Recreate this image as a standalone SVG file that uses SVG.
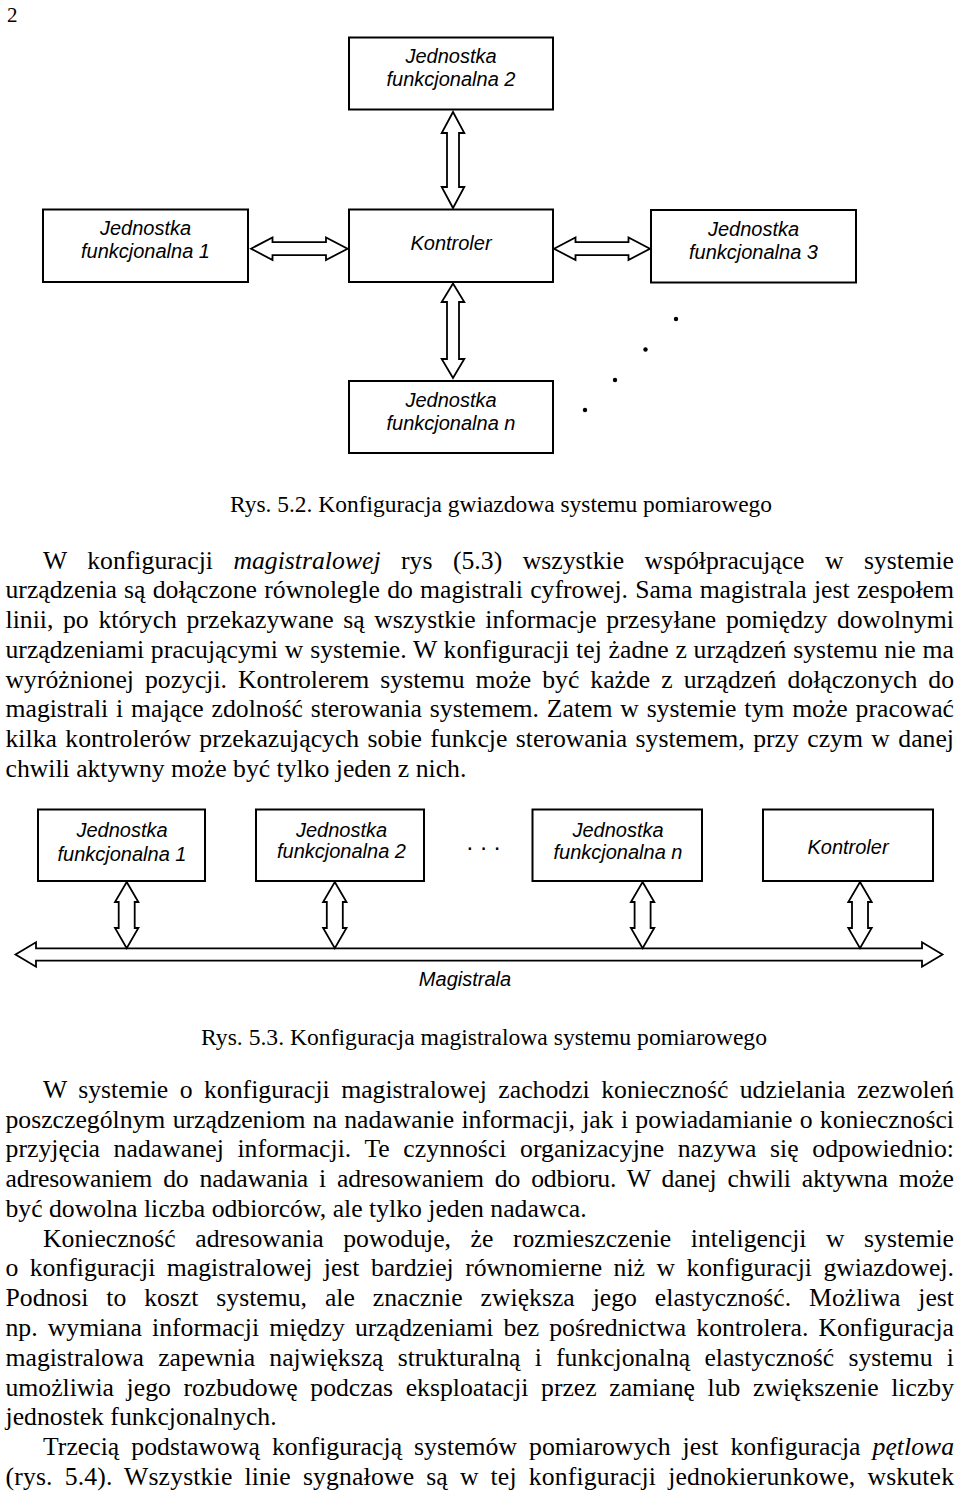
<svg xmlns="http://www.w3.org/2000/svg" width="960" height="1494" viewBox="0 0 960 1494">
<style>
.box{fill:#fff;stroke:#000;stroke-width:2}
.arr{fill:#fff;stroke:#000;stroke-width:1.8;stroke-linejoin:miter}
.lbl{font-family:"Liberation Sans",Arial,sans-serif;font-style:italic;font-size:20px;text-anchor:middle;fill:#000}
.body{font-family:"Liberation Serif","Times New Roman",serif;font-size:25.7px;fill:#000}
.cap{font-family:"Liberation Serif","Times New Roman",serif;font-size:23.4px;fill:#000}
.it{font-style:italic}
.dot{fill:#000}
</style>
<rect width="960" height="1494" fill="#fff"/>
<text x="7" y="22" style="font-family:'Liberation Serif',serif;font-size:21px">2</text>

<!-- Star configuration -->
<g id="star-connectors">
<path class="arr" d="M453,112 L464.3,133 L459,133 L459,187 L464.3,187 L453,208 L441.7,187 L447,187 L447,133 L441.7,133 Z"/>
<path class="arr" d="M453,283.5 L464.3,302 L459,302 L459,359 L464.3,359 L453,378 L441.7,359 L447,359 L447,302 L441.7,302 Z"/>
<path class="arr" d="M251,248.7 L272.5,237.4 L272.5,242.2 L326,242.2 L326,237.4 L347.6,248.7 L326,260 L326,255.2 L272.5,255.2 L272.5,260 Z"/>
<path class="arr" d="M554,248.7 L575.5,237.4 L575.5,242.2 L628.5,242.2 L628.5,237.4 L650,248.7 L628.5,260 L628.5,255.2 L575.5,255.2 L575.5,260 Z"/>
</g>
<g id="star-jf2">
<rect class="box" x="349" y="37.5" width="204" height="72"/>
<text class="lbl" x="451" y="63">Jednostka</text>
<text class="lbl" x="451" y="86">funkcjonalna 2</text>
</g>
<g id="star-kontroler">
<rect class="box" x="349" y="209.5" width="204" height="72.5"/>
<text class="lbl" x="451" y="250">Kontroler</text>
</g>
<g id="star-jf1">
<rect class="box" x="43" y="209.5" width="205" height="72.5"/>
<text class="lbl" x="145.5" y="235">Jednostka</text>
<text class="lbl" x="145.5" y="258">funkcjonalna 1</text>
</g>
<g id="star-jf3">
<rect class="box" x="651" y="210" width="205" height="72.5"/>
<text class="lbl" x="753.5" y="236">Jednostka</text>
<text class="lbl" x="753.5" y="259">funkcjonalna 3</text>
</g>
<g id="star-jfn">
<rect class="box" x="349" y="381" width="204" height="72"/>
<text class="lbl" x="451" y="407">Jednostka</text>
<text class="lbl" x="451" y="430">funkcjonalna n</text>
</g>
<g id="star-dots">
<circle class="dot" cx="676" cy="319" r="2.2"/>
<circle class="dot" cx="645.5" cy="349.5" r="2.2"/>
<circle class="dot" cx="615" cy="380" r="2.2"/>
<circle class="dot" cx="585" cy="410" r="2.2"/>
</g>

<text class="cap" x="230" y="512" textLength="542" lengthAdjust="spacingAndGlyphs">Rys. 5.2. Konfiguracja gwiazdowa systemu pomiarowego</text>

<!-- Paragraph 1 -->
<g id="para1" class="body">
<text x="43" y="568.5" textLength="911" lengthAdjust="spacing" style="word-spacing:14px">W konfiguracji <tspan class="it">magistralowej</tspan> rys (5.3) wszystkie współpracujące w systemie</text>
<text x="5.5" y="598.3" textLength="948.5" lengthAdjust="spacing" style="word-spacing:0.85px">urządzenia są dołączone równolegle do magistrali cyfrowej. Sama magistrala jest zespołem</text>
<text x="5.5" y="628.1" textLength="948.5" lengthAdjust="spacing" style="word-spacing:3.25px">linii, po których przekazywane są wszystkie informacje przesyłane pomiędzy dowolnymi</text>
<text x="5.5" y="657.8" textLength="948.5" lengthAdjust="spacing" style="word-spacing:0.36px">urządzeniami pracującymi w systemie. W konfiguracji tej żadne z urządzeń systemu nie ma</text>
<text x="5.5" y="687.6" textLength="948.5" lengthAdjust="spacing" style="word-spacing:4.6px">wyróżnionej pozycji. Kontrolerem systemu może być każde z urządzeń dołączonych do</text>
<text x="5.5" y="717.4" textLength="948.5" lengthAdjust="spacing" style="word-spacing:1.4px">magistrali i mające zdolność sterowania systemem. Zatem w systemie tym może pracować</text>
<text x="5.5" y="747.2" textLength="948.5" lengthAdjust="spacing" style="word-spacing:2px">kilka kontrolerów przekazujących sobie funkcje sterowania systemem, przy czym w danej</text>
<text x="5.5" y="776.9">chwili aktywny może być tylko jeden z nich.</text>
</g>

<!-- Bus configuration -->
<g id="bus-connectors">
<path id="bus" class="arr" d="M15.5,954.5 L36,942.3 L36,948.3 L922,948.3 L922,942.3 L942.5,954.5 L922,966.7 L922,960.7 L36,960.7 L36,966.7 Z"/>
<path class="arr" d="M126.7,882 L138.4,902 L134.7,902 L134.7,928 L138.4,928 L126.7,948.3 L115,928 L118.7,928 L118.7,902 L115,902 Z"/>
<path class="arr" d="M334.8,882 L346.5,902 L342.8,902 L342.8,928 L346.5,928 L334.8,948.3 L323.1,928 L326.8,928 L326.8,902 L323.1,902 Z"/>
<path class="arr" d="M642.6,882 L654.3,902 L650.6,902 L650.6,928 L654.3,928 L642.6,948.3 L630.9,928 L634.6,928 L634.6,902 L630.9,902 Z"/>
<path class="arr" d="M860,882 L871.7,902 L868,902 L868,928 L871.7,928 L860,948.3 L848.3,928 L852,928 L852,902 L848.3,902 Z"/>
<text class="lbl" x="465" y="986">Magistrala</text>
</g>
<g id="bus-jf1">
<rect class="box" x="38" y="809.5" width="167" height="71.5"/>
<text class="lbl" x="122" y="837">Jednostka</text>
<text class="lbl" x="122" y="861">funkcjonalna 1</text>
</g>
<g id="bus-jf2">
<rect class="box" x="256" y="809.5" width="168" height="71.5"/>
<text class="lbl" x="341.5" y="837">Jednostka</text>
<text class="lbl" x="341.5" y="858">funkcjonalna 2</text>
</g>
<text x="466.5" y="849.5" style="font-family:'Liberation Sans',sans-serif;font-size:24px;letter-spacing:7px">...</text>
<g id="bus-jfn">
<rect class="box" x="532.5" y="809.5" width="169.5" height="71.5"/>
<text class="lbl" x="618" y="837">Jednostka</text>
<text class="lbl" x="618" y="859">funkcjonalna n</text>
</g>
<g id="bus-kontroler">
<rect class="box" x="763" y="809.5" width="170" height="71.5"/>
<text class="lbl" x="848" y="854">Kontroler</text>
</g>

<text class="cap" x="201" y="1045" textLength="566" lengthAdjust="spacingAndGlyphs">Rys. 5.3. Konfiguracja magistralowa systemu pomiarowego</text>

<!-- Paragraph 2 -->
<g id="para2" class="body">
<text x="43" y="1097.7" textLength="911" lengthAdjust="spacing" style="word-spacing:5px">W systemie o konfiguracji magistralowej zachodzi konieczność udzielania zezwoleń</text>
<text x="5.5" y="1127.5" textLength="948.5" lengthAdjust="spacing" style="word-spacing:0.86px">poszczególnym urządzeniom na nadawanie informacji, jak i powiadamianie o konieczności</text>
<text x="5.5" y="1157.3" textLength="948.5" lengthAdjust="spacing" style="word-spacing:7.1px">przyjęcia nadawanej informacji. Te czynności organizacyjne nazywa się odpowiednio:</text>
<text x="5.5" y="1187.1" textLength="948.5" lengthAdjust="spacing" style="word-spacing:4.7px">adresowaniem do nadawania i adresowaniem do odbioru. W danej chwili aktywna może</text>
<text x="5.5" y="1216.9">być dowolna liczba odbiorców, ale tylko jeden nadawca.</text>
<text x="43" y="1246.7" textLength="911" lengthAdjust="spacing" style="word-spacing:13.1px">Konieczność adresowania powoduje, że rozmieszczenie inteligencji w systemie</text>
<text x="5.5" y="1276.4" textLength="948.5" lengthAdjust="spacing" style="word-spacing:5px">o konfiguracji magistralowej jest bardziej równomierne niż w konfiguracji gwiazdowej.</text>
<text x="5.5" y="1306.2" textLength="948.5" lengthAdjust="spacing" style="word-spacing:11.5px">Podnosi to koszt systemu, ale znacznie zwiększa jego elastyczność. Możliwa jest</text>
<text x="5.5" y="1336" textLength="948.5" lengthAdjust="spacing" style="word-spacing:3.7px">np. wymiana informacji między urządzeniami bez pośrednictwa kontrolera. Konfiguracja</text>
<text x="5.5" y="1365.8" textLength="948.5" lengthAdjust="spacing" style="word-spacing:7.8px">magistralowa zapewnia największą strukturalną i funkcjonalną elastyczność systemu i</text>
<text x="5.5" y="1395.6" textLength="948.5" lengthAdjust="spacing" style="word-spacing:6.2px">umożliwia jego rozbudowę podczas eksploatacji przez zamianę lub zwiększenie liczby</text>
<text x="5.5" y="1425.4">jednostek funkcjonalnych.</text>
<text x="43" y="1455.2" textLength="911" lengthAdjust="spacing" style="word-spacing:5.6px">Trzecią podstawową konfiguracją systemów pomiarowych jest konfiguracja <tspan class="it">pętlowa</tspan></text>
<text x="5.5" y="1485" textLength="948.5" lengthAdjust="spacing" style="word-spacing:5.4px">(rys. 5.4). Wszystkie linie sygnałowe są w tej konfiguracji jednokierunkowe, wskutek</text>
</g>
</svg>
